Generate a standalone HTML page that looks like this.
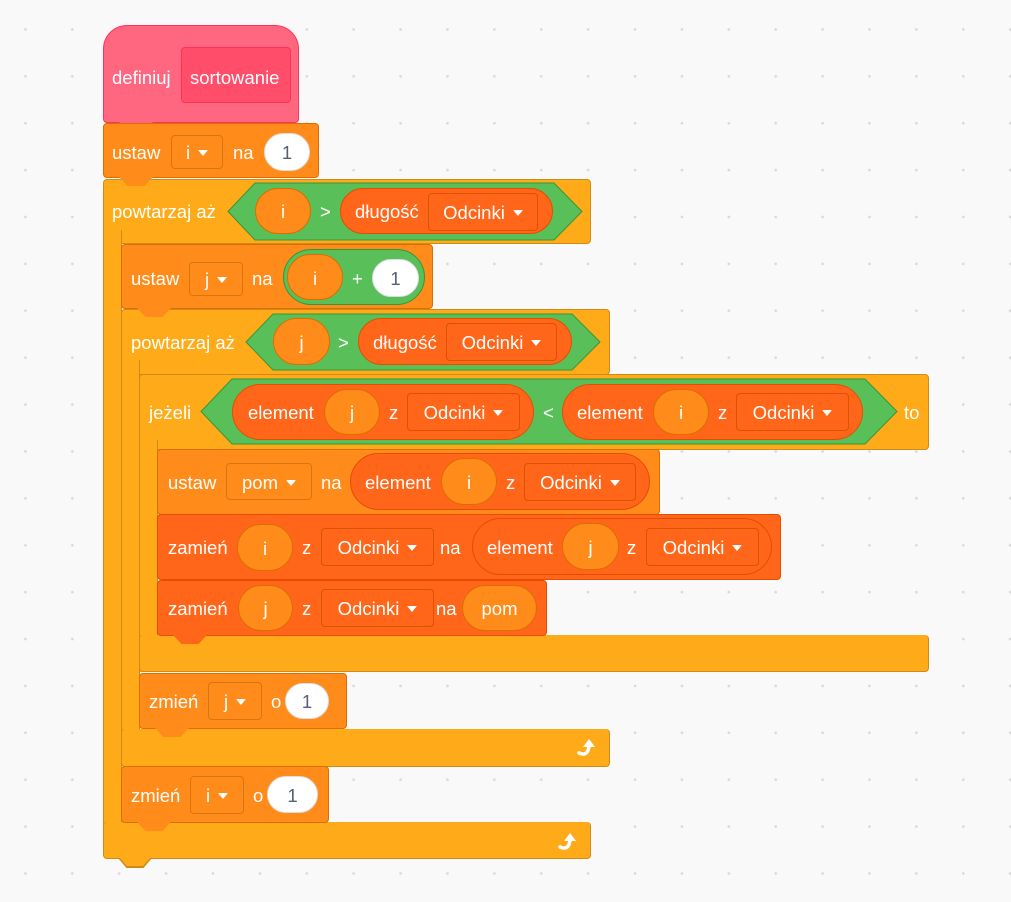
<!DOCTYPE html>
<html><head><meta charset="utf-8"><style>
html,body{margin:0;padding:0}
body{width:1011px;height:902px;overflow:hidden;position:relative;background-color:#f9f9f9;
background-image:radial-gradient(circle,#d9d9d9 1.1px,transparent 1.6px);background-size:46.9px 46.9px;background-position:2px 6px;
font-family:"Liberation Sans",Arial,sans-serif;color:#fff;font-size:18.5px}
.b{position:absolute;box-sizing:border-box;border:1px solid}
.ctl{background:#FFAB19;border-color:#CF8B17;border-radius:4px}
.var{background:#FF8C1A;border-color:#DB6E00;border-radius:4px}
.lst{background:#FF661A;border-color:#E64D00;border-radius:4px}
.t{position:absolute;white-space:nowrap;line-height:22px;height:22px;margin-top:-10px}
.ov{position:absolute;box-sizing:border-box;border:1px solid;border-radius:30px;display:flex;align-items:center;justify-content:center;padding-top:2px}
.vo{background:#FF8C1A;border-color:#DB6E00}
.lo{background:#FF661A;border-color:#E64D00}
.go{background:#59C059;border-color:#389438}
.wh{background:#fff;border-color:#ddd;color:#575e75}
.dd{position:absolute;box-sizing:border-box;border:1px solid rgba(0,0,0,0.15);border-radius:4px;display:flex;align-items:center;justify-content:center;padding-top:2px}
.dd.v{background:#FF8C1A;border-color:#D9750F}
.dd.l{background:#FF661A;border-color:#DB5200}
.dd:after{content:"";display:inline-block;margin-left:8px;border-left:5px solid transparent;border-right:5px solid transparent;border-top:6px solid #fff;border-radius:1px}
.tab{position:absolute;height:9px;width:34px;clip-path:polygon(0 0,100% 0,75% 100%,25% 100%)}
</style></head><body>

<div class="b ctl" style="left:103px;top:179px;width:488px;height:65px"></div>
<div class="b ctl" style="left:103px;top:230px;width:19px;height:628px;border-radius:0 0 0 4px;border-top:none;border-bottom:none"></div>
<div class="b ctl" style="left:103px;top:822px;width:488px;height:37px;border-top:none"></div>
<div class="tab" style="left:118px;top:858px;background:#CF8B17;height:10px"></div>
<div class="tab" style="left:119px;top:857px;background:#FFAB19;width:32px"></div>

<div class="b ctl" style="left:121px;top:309px;width:489px;height:66px"></div>
<div class="b ctl" style="left:121px;top:360px;width:19px;height:406px;border-top:none;border-bottom:none;border-radius:0"></div>
<div class="b ctl" style="left:121px;top:729px;width:489px;height:38px;border-top:none"></div>

<div class="b ctl" style="left:139px;top:374px;width:790px;height:76px"></div>
<div class="b ctl" style="left:139px;top:440px;width:19px;height:232px;border-top:none;border-bottom:none;border-radius:0"></div>
<div class="b ctl" style="left:139px;top:635px;width:790px;height:37px;border-top:none"></div>

<div class="b" style="left:103px;top:25px;width:196px;height:98px;background:#FF6680;border-color:#FF3355;border-radius:24px 24px 4px 4px"></div>
<div class="b" style="left:181px;top:47px;width:110px;height:56px;background:#FF4D6A;border-color:#FF3355;border-radius:4px"></div>
<div class="t" style="left:112px;top:77px">definiuj</div>
<div class="t" style="left:190px;top:77px">sortowanie</div>
<div class="tab" style="left:119px;top:122px;background:#FF6680"></div>

<div class="b var" style="left:103px;top:123px;width:216px;height:55px"></div>
<div class="tab" style="left:119px;top:177px;background:#FF8C1A"></div>
<div class="t" style="left:112px;top:152px">ustaw</div>
<div class="dd v" style="left:171px;top:135px;width:52px;height:34px">i</div>
<div class="t" style="left:233px;top:152px">na</div>
<div class="ov wh" style="left:264px;top:133px;width:46px;height:38px">1</div>

<div class="t" style="left:112px;top:211px">powtarzaj aż</div>
<svg style="position:absolute;left:227px;top:182px" width="356" height="59"><polygon points="1,29.5 28,1 327,1 355,29.5 327,58 28,58" fill="#59C059" stroke="#389438"/></svg>
<div class="ov vo" style="left:255px;top:188px;width:56px;height:46px">i</div>
<div class="t" style="left:320px;top:211px">&gt;</div>
<div class="ov lo" style="left:340px;top:188px;width:213px;height:46px"></div>
<div class="t" style="left:355px;top:211px">długość</div>
<div class="dd l" style="left:428px;top:193px;width:110px;height:38px">Odcinki</div>

<div class="b var" style="left:121px;top:244px;width:312px;height:65px"></div>
<div class="tab" style="left:137px;top:308px;background:#FF8C1A"></div>
<div class="t" style="left:131px;top:278px">ustaw</div>
<div class="dd v" style="left:189px;top:262px;width:54px;height:34px">j</div>
<div class="t" style="left:252px;top:278px">na</div>
<div class="ov go" style="left:283px;top:249px;width:142px;height:56px"></div>
<div class="ov vo" style="left:287px;top:254px;width:56px;height:46px;padding-top:4px">i</div>
<div class="t" style="left:352px;top:278px">+</div>
<div class="ov wh" style="left:372px;top:259px;width:47px;height:38px">1</div>

<div class="t" style="left:131px;top:342px">powtarzaj aż</div>
<svg style="position:absolute;left:245px;top:313px" width="356" height="58"><polygon points="1,29 28,1 327,1 355,29 327,57 28,57" fill="#59C059" stroke="#389438"/></svg>
<div class="ov vo" style="left:273px;top:318px;width:57px;height:47px">j</div>
<div class="t" style="left:338px;top:342px">&gt;</div>
<div class="ov lo" style="left:358px;top:318px;width:214px;height:47px"></div>
<div class="t" style="left:373px;top:342px">długość</div>
<div class="dd l" style="left:446px;top:323px;width:111px;height:38px">Odcinki</div>

<div class="t" style="left:149px;top:412px">jeżeli</div>
<svg style="position:absolute;left:200px;top:378px" width="698" height="67"><polygon points="1,33.5 32,1 665,1 697,33.5 665,66 32,66" fill="#59C059" stroke="#389438"/></svg>
<div class="ov lo" style="left:232px;top:384px;width:302px;height:56px"></div>
<div class="t" style="left:248px;top:412px">element</div>
<div class="ov vo" style="left:324px;top:389px;width:56px;height:46px">j</div>
<div class="t" style="left:389px;top:412px">z</div>
<div class="dd l" style="left:407px;top:393px;width:113px;height:38px">Odcinki</div>
<div class="t" style="left:543px;top:412px">&lt;</div>
<div class="ov lo" style="left:562px;top:384px;width:301px;height:56px"></div>
<div class="t" style="left:577px;top:412px">element</div>
<div class="ov vo" style="left:653px;top:389px;width:56px;height:46px">i</div>
<div class="t" style="left:718px;top:412px">z</div>
<div class="dd l" style="left:736px;top:393px;width:113px;height:38px">Odcinki</div>
<div class="t" style="left:904px;top:412px">to</div>

<div class="b var" style="left:157px;top:449px;width:503px;height:66px"></div>
<div class="t" style="left:168px;top:482px">ustaw</div>
<div class="dd v" style="left:226px;top:463px;width:86px;height:37px">pom</div>
<div class="t" style="left:321px;top:482px">na</div>
<div class="ov lo" style="left:350px;top:453px;width:300px;height:57px"></div>
<div class="t" style="left:365px;top:482px">element</div>
<div class="ov vo" style="left:441px;top:458px;width:56px;height:47px">i</div>
<div class="t" style="left:506px;top:482px">z</div>
<div class="dd l" style="left:524px;top:463px;width:112px;height:38px">Odcinki</div>

<div class="b lst" style="left:157px;top:514px;width:624px;height:66px"></div>
<div class="t" style="left:168px;top:547px">zamień</div>
<div class="ov vo" style="left:237px;top:524px;width:56px;height:47px">i</div>
<div class="t" style="left:302px;top:547px">z</div>
<div class="dd l" style="left:321px;top:528px;width:113px;height:38px">Odcinki</div>
<div class="t" style="left:440px;top:547px">na</div>
<div class="ov lo" style="left:472px;top:518px;width:300px;height:57px"></div>
<div class="t" style="left:487px;top:547px">element</div>
<div class="ov vo" style="left:562px;top:523px;width:57px;height:47px">j</div>
<div class="t" style="left:627px;top:547px">z</div>
<div class="dd l" style="left:646px;top:528px;width:113px;height:38px">Odcinki</div>

<div class="b lst" style="left:157px;top:580px;width:390px;height:56px"></div>
<div class="tab" style="left:173px;top:635px;background:#FF661A"></div>
<div class="t" style="left:168px;top:608px">zamień</div>
<div class="ov vo" style="left:238px;top:585px;width:55px;height:46px">j</div>
<div class="t" style="left:302px;top:608px">z</div>
<div class="dd l" style="left:321px;top:589px;width:113px;height:38px">Odcinki</div>
<div class="t" style="left:436px;top:608px">na</div>
<div class="ov vo" style="left:462px;top:585px;width:75px;height:46px">pom</div>

<div class="b var" style="left:139px;top:673px;width:208px;height:56px"></div>
<div class="tab" style="left:155px;top:728px;background:#FF8C1A"></div>
<div class="t" style="left:149px;top:701px">zmień</div>
<div class="dd v" style="left:208px;top:682px;width:54px;height:38px">j</div>
<div class="t" style="left:271px;top:701px">o</div>
<div class="ov wh" style="left:285px;top:683px;width:44px;height:36px">1</div>

<div class="b var" style="left:121px;top:766px;width:208px;height:57px"></div>
<div class="tab" style="left:137px;top:822px;background:#FF8C1A"></div>
<div class="t" style="left:131px;top:795px">zmień</div>
<div class="dd v" style="left:190px;top:776px;width:54px;height:38px">i</div>
<div class="t" style="left:253px;top:795px">o</div>
<div class="ov wh" style="left:267px;top:776px;width:51px;height:37px">1</div>

<svg style="position:absolute;left:576px;top:737px" width="22" height="22"><path d="M3,16 Q12,20 13,9" stroke="#fff" stroke-width="3.5" fill="none" stroke-linecap="round"/><polygon points="13,2 19,10 7,10" fill="#fff"/></svg>
<svg style="position:absolute;left:557px;top:831px" width="22" height="22"><path d="M3,16 Q12,20 13,9" stroke="#fff" stroke-width="3.5" fill="none" stroke-linecap="round"/><polygon points="13,2 19,10 7,10" fill="#fff"/></svg>

</body></html>
